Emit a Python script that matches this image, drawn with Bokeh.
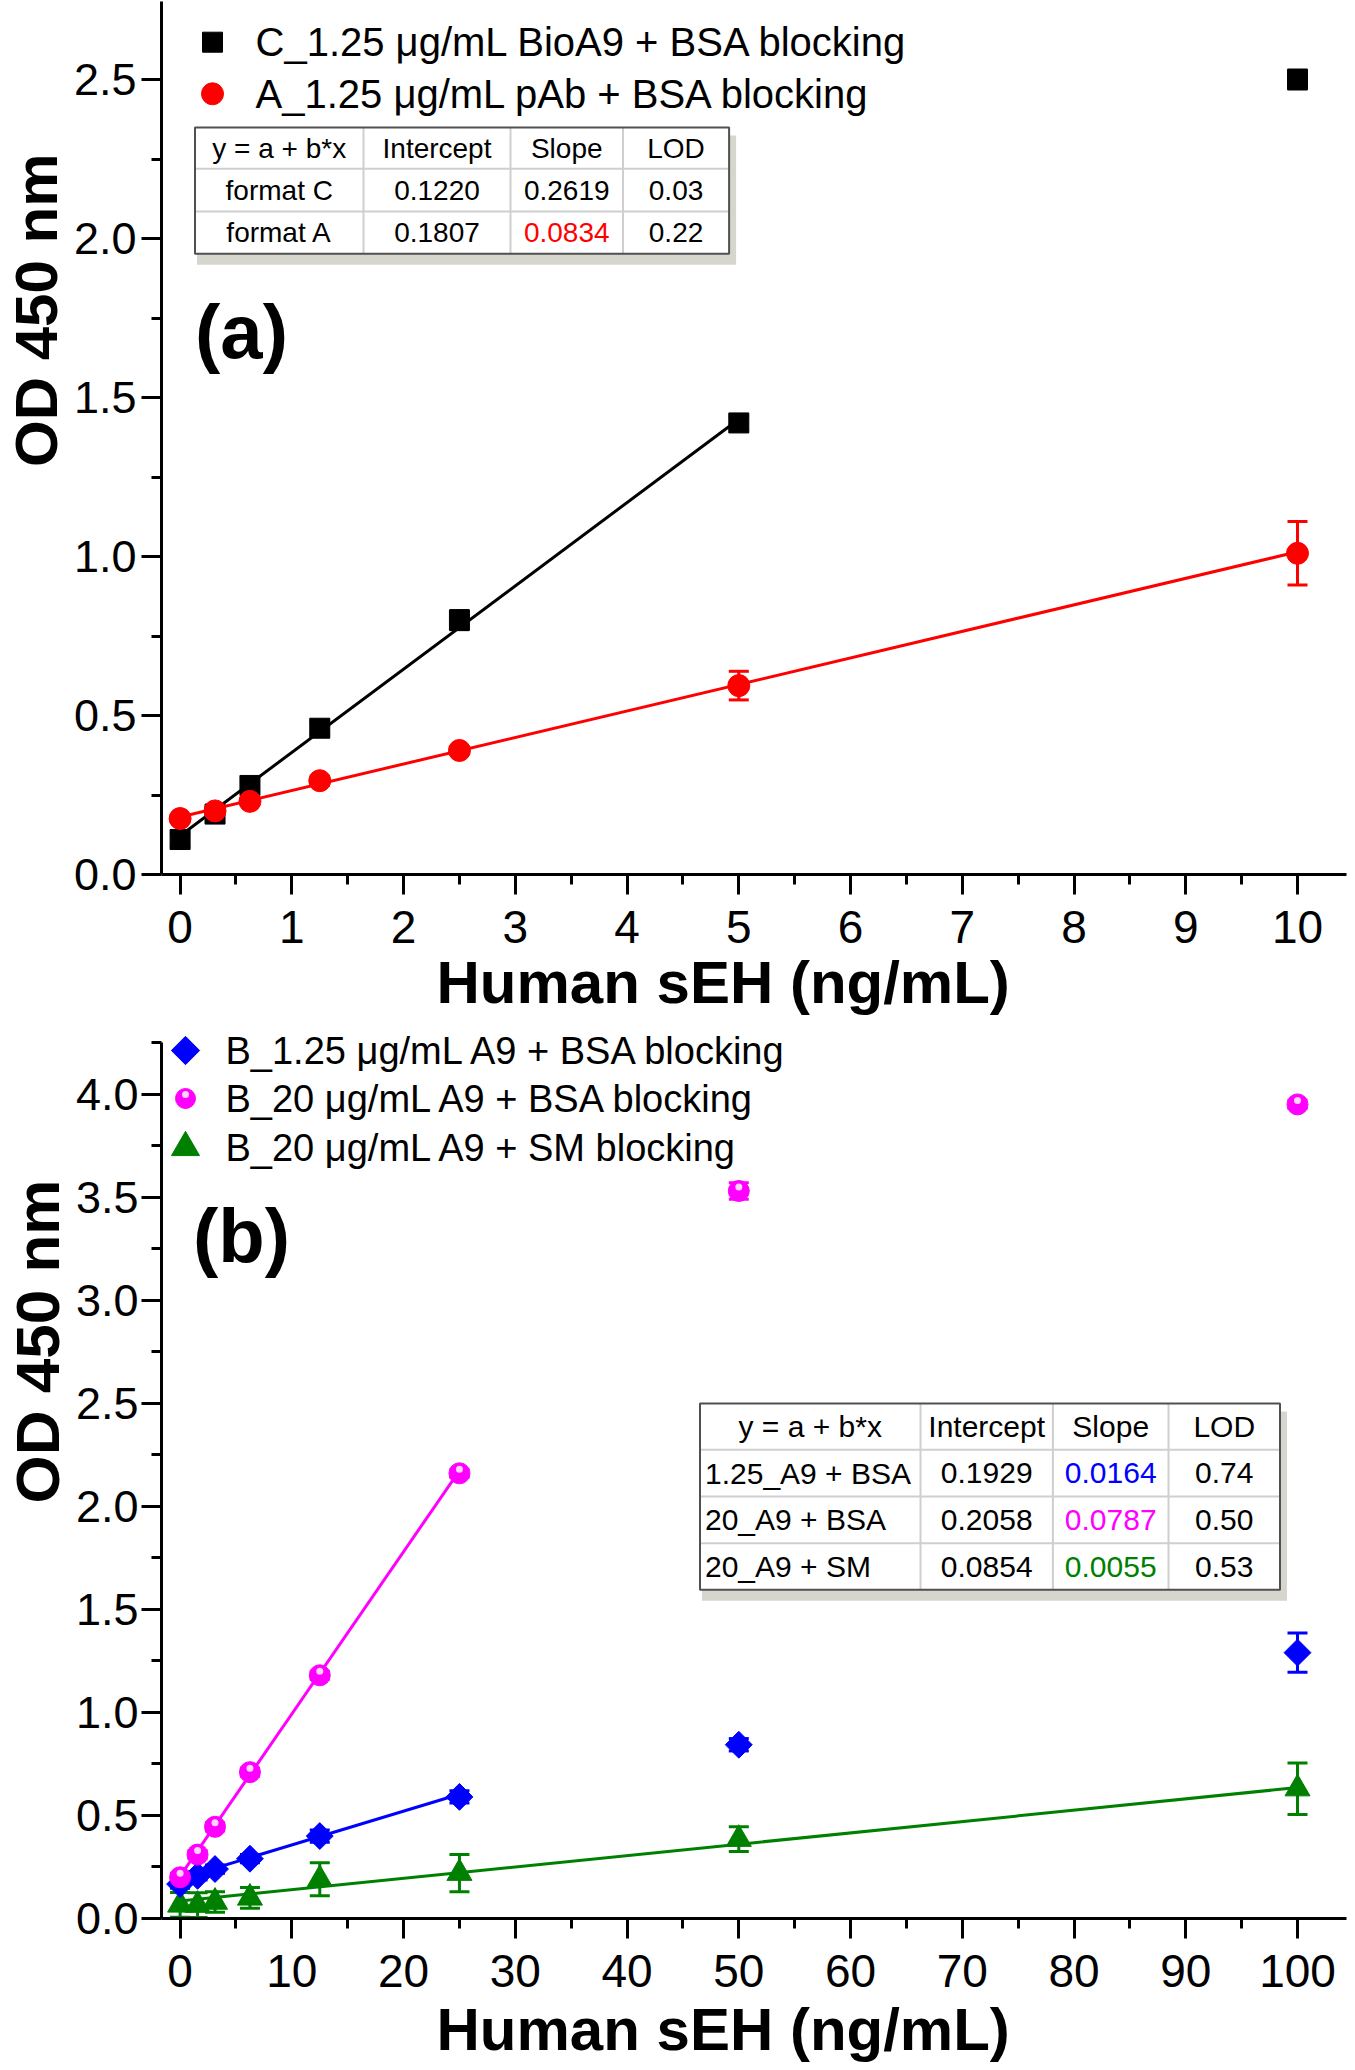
import math
from bokeh.plotting import figure
from bokeh.models import (ColumnDataSource, Whisker, TeeHead, Label,
                          FixedTicker, Range1d, NumeralTickFormatter, Title)
from bokeh.layouts import column
from bokeh.embed import file_html
from bokeh.resources import INLINE
from bokeh.core.properties import value

FONT = "Liberation Sans"

# ---------------- data: panel (a) ----------------
conc_a = [0, 0.3125, 0.625, 1.25, 2.5, 5, 10]
od_format_c = [0.11, 0.19, 0.28, 0.46, 0.80, 1.42, 2.50]
sd_format_c = [0.02, 0.02, 0.02, 0.02, 0.03, 0.02, 0.03]
od_format_a = [0.176, 0.20, 0.23, 0.295, 0.39, 0.594, 1.01]
sd_format_a = [0.012, 0.015, 0.012, 0.015, 0.012, 0.045, 0.10]
label_format_c = "C_1.25 \u03bcg/mL BioA9 + BSA blocking"
label_format_a = "A_1.25 \u03bcg/mL pAb + BSA blocking"

fit_a_names = ["format C", "format A"]
fit_a_intercept = [0.1220, 0.1807]
fit_a_slope = [0.2619, 0.0834]
fit_a_lod = [0.03, 0.22]
fit_a_xmax = [5, 10]

# ---------------- data: panel (b) ----------------
conc_b = [0, 1.5625, 3.125, 6.25, 12.5, 25, 50, 100]
od_b125_bsa = [0.167, 0.207, 0.24, 0.29, 0.40, 0.59, 0.843, 1.29]
sd_b125_bsa = [0.02, 0.02, 0.02, 0.02, 0.03, 0.03, 0.03, 0.095]
od_b20_bsa = [0.20, 0.31, 0.445, 0.71, 1.18, 2.16, 3.53, 3.95]
sd_b20_bsa = [0.02, 0.02, 0.02, 0.02, 0.02, 0.02, 0.04, 0.02]
od_b20_sm = [0.066, 0.065, 0.08, 0.10, 0.19, 0.22, 0.385, 0.63]
sd_b20_sm = [0.06, 0.06, 0.05, 0.05, 0.08, 0.09, 0.06, 0.125]
label_b125_bsa = "B_1.25 \u03bcg/mL A9 + BSA blocking"
label_b20_bsa = "B_20 \u03bcg/mL A9 + BSA blocking"
label_b20_sm = "B_20 \u03bcg/mL A9 + SM blocking"

fit_b_names = ["1.25_A9 + BSA", "20_A9 + BSA", "20_A9 + SM"]
fit_b_intercept = [0.1929, 0.2058, 0.0854]
fit_b_slope = [0.0164, 0.0787, 0.0055]
fit_b_lod = [0.74, 0.50, 0.53]
fit_b_xmax = [25, 25, 100]

table_header = ["y = a + b*x", "Intercept", "Slope", "LOD"]

x_ticks_a = [0, 1, 2, 3, 4, 5, 6, 7, 8, 9, 10]
y_ticks_a = [0.0, 0.5, 1.0, 1.5, 2.0, 2.5]
x_ticks_b = [0, 10, 20, 30, 40, 50, 60, 70, 80, 90, 100]
y_ticks_b = [0.0, 0.5, 1.0, 1.5, 2.0, 2.5, 3.0, 3.5, 4.0]
y_axis_top_b = 4.25

x_title = "Human sEH (ng/mL)"
y_title = "OD 450 nm"

# ---------------- layout geometry (page pixels) ----------------
FRAME_L = 161
FRAME_R = 1346
FRAME_W = FRAME_R - FRAME_L
FIG_W = 1349


def make_panel(fig_top, fig_h, frame_top, frame_bot, x0_page, xppu, yppu,
               x_ticks, y_ticks, xt_standoff, yt_offset, yt_size, ylab_standoff,
               y_axis_top=None):
    frame_h = frame_bot - frame_top
    xs = (FRAME_L - x0_page) / xppu
    xe = xs + FRAME_W / xppu
    ye = frame_h / yppu
    p = figure(frame_width=FRAME_W, frame_height=frame_h,
               min_border_left=FRAME_L,
               min_border_right=FIG_W - FRAME_R,
               min_border_top=frame_top - fig_top,
               min_border_bottom=fig_top + fig_h - frame_bot,
               x_range=Range1d(xs, xe), y_range=Range1d(0, ye),
               output_backend="svg", toolbar_location=None,
               outline_line_color=None, background_fill_color="white",
               border_fill_color="white")
    p.grid.visible = False
    dx = x_ticks[1] - x_ticks[0]
    dy = y_ticks[1] - y_ticks[0]
    p.xaxis.ticker = FixedTicker(ticks=x_ticks,
                                 minor_ticks=[t + dx / 2 for t in x_ticks])
    p.yaxis.ticker = FixedTicker(ticks=y_ticks,
                                 minor_ticks=[t + dy / 2 for t in y_ticks])
    p.yaxis.formatter = NumeralTickFormatter(format="0.0")
    if y_axis_top is not None:
        p.yaxis.bounds = (0, y_axis_top)
    for ax in (p.xaxis, p.yaxis):
        ax.axis_line_width = 3
        ax.axis_line_color = "black"
        ax.major_tick_line_width = 3
        ax.minor_tick_line_width = 3
        ax.major_tick_out = 20
        ax.major_tick_in = 0
        ax.minor_tick_out = 10
        ax.minor_tick_in = 0
        ax.major_label_text_font = FONT
        ax.major_label_text_color = "black"
    p.xaxis.major_label_text_font_size = "46px"
    p.yaxis.major_label_text_font_size = "45px"
    p.xaxis.major_label_standoff = 16
    p.yaxis.major_label_standoff = ylab_standoff

    p.add_layout(Title(text=x_title, align="left", offset=275, vertical_align="top",
                       standoff=xt_standoff, text_font=FONT, text_font_size="60px",
                       text_font_style="bold", text_color="black"), "below")
    p.add_layout(Title(text=y_title, align="right", offset=yt_offset, vertical_align="middle",
                       standoff=0, text_font=FONT, text_font_size=f"{yt_size}px",
                       text_font_style="bold", text_color="black"), "left")

    def to_x(px):
        return xs + (px - FRAME_L) / xppu

    def to_y(py):
        return (frame_bot - py) / yppu

    return p, to_x, to_y, yppu


def add_series(p, x, y, sd, color, marker, size, fit_b0, fit_b1, fit_xmax, angle=0.0):
    fx = [0, fit_xmax]
    fy = [fit_b0 + fit_b1 * v for v in fx]
    p.line(fx, fy, line_color=color, line_width=3)
    src = ColumnDataSource(dict(x=x, upper=[a + b for a, b in zip(y, sd)],
                                lower=[a - b for a, b in zip(y, sd)]))
    w = Whisker(base="x", upper="upper", lower="lower", source=src,
                line_color=color, line_width=3,
                upper_head=TeeHead(size=20, line_color=color, line_width=3),
                lower_head=TeeHead(size=20, line_color=color, line_width=3))
    p.add_layout(w)
    p.scatter(x, y, marker=marker, size=size, angle=angle,
              fill_color=color, line_color=color)


def add_sphere_highlight(p, x, y, yppu, size):
    # small light spot on the upper part of the "sphere" markers
    p.scatter(x, [v + 4.0 / yppu for v in y], marker="circle", size=size,
              fill_color="#ffd2ff", line_color=None)


def draw_table(p, to_x, to_y, cols, rows, cells, colors, font_px, left_first):
    L, R, T, B = cols[0], cols[-1], rows[0], rows[-1]
    p.quad(left=[to_x(L + 2)], right=[to_x(R + 7)], top=[to_y(T + 8)],
           bottom=[to_y(B + 11)], fill_color="#d6d6ce", line_color=None)
    p.quad(left=[to_x(L)], right=[to_x(R)], top=[to_y(T)], bottom=[to_y(B)],
           fill_color="white", line_color=None)
    x0s, y0s, x1s, y1s = [], [], [], []
    for c in cols[1:-1]:
        x0s.append(to_x(c)); x1s.append(to_x(c)); y0s.append(to_y(T)); y1s.append(to_y(B))
    for r in rows[1:-1]:
        x0s.append(to_x(L)); x1s.append(to_x(R)); y0s.append(to_y(r)); y1s.append(to_y(r))
    p.segment(x0s, y0s, x1s, y1s, line_color="#cfcfcf", line_width=2)
    p.quad(left=[to_x(L)], right=[to_x(R)], top=[to_y(T)], bottom=[to_y(B)],
           fill_color=None, line_color="#505050", line_width=2)
    cx, cy, ct, cc = [], [], [], []
    lx, ly, lt, lc = [], [], [], []
    for i, row in enumerate(cells):
        ymid = to_y((rows[i] + rows[i + 1]) / 2)
        for j, txt in enumerate(row):
            if j == 0 and i > 0 and left_first:
                lx.append(to_x(cols[0] + 5)); ly.append(ymid); lt.append(txt); lc.append(colors[i][j])
            else:
                cx.append(to_x((cols[j] + cols[j + 1]) / 2)); cy.append(ymid)
                ct.append(txt); cc.append(colors[i][j])
    p.text(x=cx, y=cy, text=ct, text_color=cc, text_align="center",
           text_baseline="middle", text_font=value(FONT), text_font_size=f"{font_px}px")
    if lx:
        p.text(x=lx, y=ly, text=lt, text_color=lc, text_align="left",
               text_baseline="middle", text_font=value(FONT), text_font_size=f"{font_px}px")


def draw_legend(p, to_x, to_y, items, marker_px, text_px, rows_py, font_px):
    for (marker, size, color, angle, _), py in zip(items, rows_py):
        p.scatter([to_x(marker_px)], [to_y(py)], marker=marker, size=size, angle=angle,
                  fill_color=color, line_color=color)
    p.text(x=[to_x(text_px)] * len(items), y=[to_y(py) for py in rows_py],
           text=[it[4] for it in items], text_align="left", text_baseline="middle",
           text_color="black", text_font=value(FONT), text_font_size=f"{font_px}px")


def add_letter(p, to_x, to_y, letter, letter_xy):
    p.add_layout(Label(x=to_x(letter_xy[0]), y=to_y(letter_xy[1]), text=letter,
                       text_font=FONT, text_font_size="76px", text_font_style="bold",
                       text_align="center", text_baseline="middle", text_color="black"))


# ---------------- panel (a) ----------------
pa, ax_, ay_, ya_ppu = make_panel(fig_top=0, fig_h=1022, frame_top=1, frame_bot=874,
                                  x0_page=179.6, xppu=111.74, yppu=318.0,
                                  x_ticks=x_ticks_a, y_ticks=y_ticks_a, xt_standoff=7,
                                  yt_offset=152, yt_size=60, ylab_standoff=5)
add_series(pa, conc_a, od_format_c, sd_format_c, "black", "square", 20,
           fit_a_intercept[0], fit_a_slope[0], fit_a_xmax[0])
add_series(pa, conc_a, od_format_a, sd_format_a, "#ff0000", "circle", 22,
           fit_a_intercept[1], fit_a_slope[1], fit_a_xmax[1])
cells_a = [table_header] + [[n, f"{b0:.4f}", f"{b1:.4f}", f"{lod:.2f}"]
                            for n, b0, b1, lod in zip(fit_a_names, fit_a_intercept,
                                                      fit_a_slope, fit_a_lod)]
colors_a = [["black"] * 4, ["black"] * 4, ["black", "black", "#ff0000", "black"]]
draw_table(pa, ax_, ay_, [194.5, 363, 510, 622.5, 728.6], [127, 168.3, 211, 253.3],
           cells_a, colors_a, 28, False)
draw_legend(pa, ax_, ay_,
            [("square", 20, "black", 0.0, label_format_c),
             ("circle", 22, "#ff0000", 0.0, label_format_a)],
            marker_px=212, text_px=255, rows_py=[41.7, 93.3], font_px=40)
add_letter(pa, ax_, ay_, "(a)", (241, 331))

# ---------------- panel (b) ----------------
pb, bx_, by_, yb_ppu = make_panel(fig_top=1022, fig_h=1048, frame_top=1024, frame_bot=1918,
                                  x0_page=179.6, xppu=11.174, yppu=206.1,
                                  x_ticks=x_ticks_b, y_ticks=y_ticks_b, xt_standoff=12,
                                  yt_offset=155, yt_size=62, ylab_standoff=3,
                                  y_axis_top=y_axis_top_b)
add_series(pb, conc_b, od_b20_sm, sd_b20_sm, "#008000", "triangle", 25,
           fit_b_intercept[2], fit_b_slope[2], fit_b_xmax[2])
add_series(pb, conc_b, od_b125_bsa, sd_b125_bsa, "#0000ff", "square", 19,
           fit_b_intercept[0], fit_b_slope[0], fit_b_xmax[0], angle=math.pi / 4)
add_series(pb, conc_b, od_b20_bsa, sd_b20_bsa, "#ff00ff", "circle", 21,
           fit_b_intercept[1], fit_b_slope[1], fit_b_xmax[1])
add_sphere_highlight(pb, conc_b, od_b20_bsa, yb_ppu, 7)
cells_b = [table_header] + [[n, f"{b0:.4f}", f"{b1:.4f}", f"{lod:.2f}"]
                            for n, b0, b1, lod in zip(fit_b_names, fit_b_intercept,
                                                      fit_b_slope, fit_b_lod)]
colors_b = [["black"] * 4,
            ["black", "black", "#0000ff", "black"],
            ["black", "black", "#ff00ff", "black"],
            ["black", "black", "#008000", "black"]]
draw_table(pb, bx_, by_, [699.5, 920, 1052.4, 1168, 1279.5], [1403, 1449.3, 1496, 1542.7, 1589.3],
           cells_b, colors_b, 30, True)
draw_legend(pb, bx_, by_,
            [("square", 20, "#0000ff", math.pi / 4, label_b125_bsa),
             ("circle", 20, "#ff00ff", 0.0, label_b20_bsa),
             ("triangle", 28, "#008000", 0.0, label_b20_sm)],
            marker_px=185, text_px=225, rows_py=[1050, 1098, 1147], font_px=38)
add_sphere_highlight(pb, [bx_(185)], [by_(1098)], yb_ppu, 7)
add_letter(pb, bx_, by_, "(b)", (241, 1235))

layout = column(pa, pb)
open("out.html", "w").write(file_html(layout, INLINE))
